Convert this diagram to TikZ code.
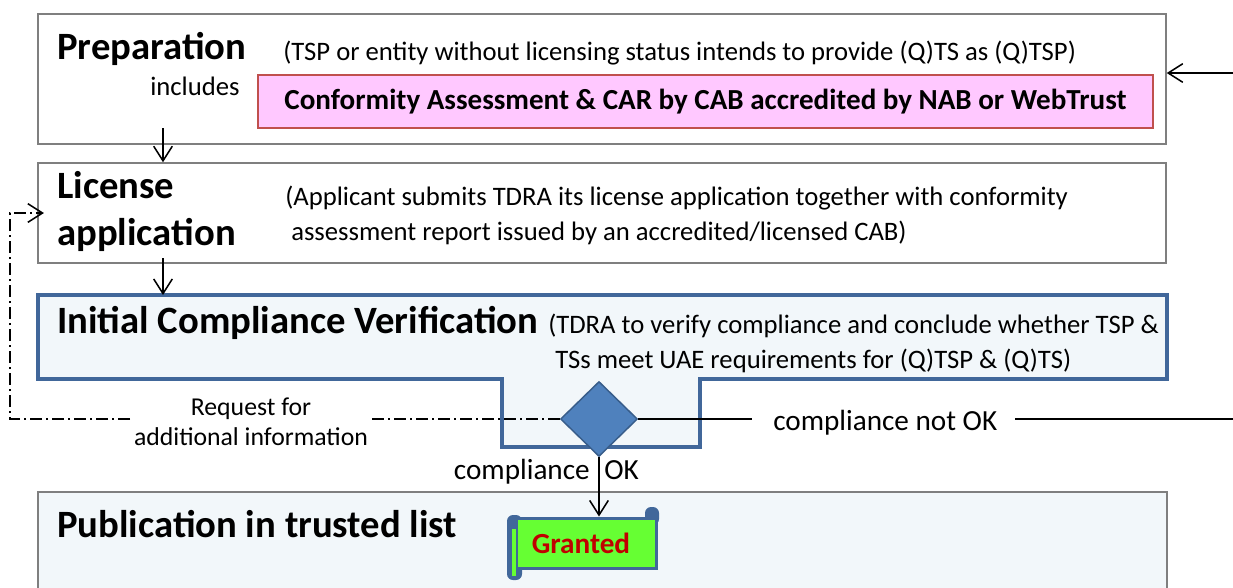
\documentclass[tikz,border=0pt]{standalone}
\usepackage{fontspec}
\setmainfont{Carlito}
\usetikzlibrary{arrows.meta,shapes.geometric}
\definecolor{boxgray}{HTML}{7F7F7F}
\definecolor{pinkfill}{HTML}{FFC8FF}
\definecolor{pinkline}{HTML}{C0504D}
\definecolor{icvline}{HTML}{41679A}
\definecolor{lightfill}{HTML}{F2F7FA}
\definecolor{diafill}{HTML}{4F81BD}
\definecolor{dialine}{HTML}{385D8A}
\definecolor{grantfill}{HTML}{66FF33}
\definecolor{grantred}{HTML}{C00000}
\tikzset{
  graybox/.style={draw=boxgray, line width=1.1pt, inner sep=0pt},
  head/.style={font=\bfseries\fontsize{29}{31}\selectfont, inner sep=0pt, anchor=base west},
  desc/.style={font=\fontsize{20}{22}\selectfont, inner sep=0pt, anchor=base west},
  barb/.style={-{Straight Barb[length=11pt,width=14pt]}},
  conn/.style={line width=1.15pt, barb},
  plainline/.style={line width=1.15pt},
  dashdot/.style={line width=1.15pt, dash pattern=on 9pt off 3pt on 1.5pt off 3pt},
  lbl/.style={font=\fontsize{21.9}{24}\selectfont, inner sep=0pt},
}
\begin{document}
\begin{tikzpicture}[x=0.75pt,y=-0.75pt]
\clip (0,0) rectangle (1233,587);
\fill[white] (0,0) rectangle (1233,587);

% Preparation
\node[graybox, fill=white, minimum width=846pt, minimum height=97.5pt] (prep) at (602,79) {};
\node[head] (prephead) at (57,59) {Preparation};
\node[desc] (prepdesc) at (283,60) {(TSP or entity without licensing status intends to provide (Q)TS as (Q)TSP)};
\node[desc] (includes) at (150,95) {includes};
\node[draw=pinkline, fill=pinkfill, line width=1.1pt, minimum width=671.25pt, minimum height=39.75pt, inner sep=0pt,
      font=\bfseries\fontsize{21.8}{24}\selectfont] (car) at (705.5,101.5) {Conformity Assessment \& CAR by CAB accredited by NAB or WebTrust};

% License application
\node[graybox, fill=white, minimum width=846pt, minimum height=75pt] (license) at (602,213) {};
\node[head] (lichead1) at (57,198) {License};
\node[head] (lichead2) at (57,245) {application};
\node[desc] (licdesc1) at (285,205) {(Applicant submits TDRA its license application together with conformity};
\node[desc] (licdesc2) at (291,240) {assessment report issued by an accredited/licensed CAB)};

% Initial Compliance Verification
\draw[icvline, line width=2.4pt, fill=lightfill, line join=miter]
  (38,295) -- (1167,295) -- (1167,379) -- (700,379) -- (700,447) -- (502,447) -- (502,379) -- (38,379) -- cycle;
\coordinate (icvtop) at (163,295);
\node[head] (icvhead) at (57,333) {Initial Compliance Verification};
\node[desc] (icvdesc1) at (548,333) {(TDRA to verify compliance and conclude whether TSP \&};
\node[desc] (icvdesc2) at (555,368) {TSs meet UAE requirements for (Q)TSP \& (Q)TS)};

\node[diamond, draw=dialine, fill=diafill, line width=1.1pt, minimum width=57.75pt, minimum height=56.25pt, inner sep=0pt] (dia) at (599,419) {};

% Publication
\node[graybox, fill=lightfill, minimum width=846.75pt, minimum height=102pt] (pub) at (602.5,560) {};
\node[head] (pubhead) at (57,537) {Publication in trusted list};

% Granted scroll
\fill[icvline, rounded corners=4.5pt] (507,515) rectangle (522,580);
\fill[icvline, rounded corners=4.5pt] (645,507) rectangle (659,525);
\node[draw=icvline, fill=grantfill, line width=2.25pt, minimum width=105pt, minimum height=37.5pt, inner sep=0pt,
      text=grantred, font=\bfseries\fontsize{21.9}{24}\selectfont] (granted) at (586,543) {Granted\hspace*{7.5pt}};
\fill[grantfill] (512,529) rectangle (516,576);

% connectors
\coordinate (a1) at (163,128);
\draw[conn] (a1) -- (a1 |- license.north);
\coordinate (a2) at (163,258);
\draw[conn] (a2) -- (icvtop);
\draw[conn] (dia.south) -- (granted.north -| dia.south);
\node[lbl, anchor=base east] (okl) at (590,479) {compliance};
\node[lbl, anchor=base west] (okr) at (604,479) {OK};

% compliance not OK
\coordinate (n1) at (752,419);
\draw[plainline] (dia.east) -- (n1);
\node[lbl, anchor=base west] (notok) at (773,430) {compliance not OK};
\coordinate (n2) at (1015,419);
\coordinate (n3) at (1233,419);
\draw[plainline] (n2) -- (n3);
\coordinate (rin) at (1233,73);
\draw[conn] (rin) -- (rin -| prep.east);

% request for additional information
\coordinate (d1) at (368,419);
\draw[dashdot] (dia.west) -- (d1);
\node[font=\fontsize{19.3}{21}\selectfont, inner sep=0pt, anchor=base] (req1) at (251,415) {Request for};
\node[font=\fontsize{19.3}{21}\selectfont, inner sep=0pt, anchor=base] (req2) at (251,445) {additional information};
\coordinate (d2) at (130,419);
\coordinate (d3) at (10,419);
\draw[dashdot, barb, shorten >=-5pt] (d2) -- (d3) |- (license.west);
\end{tikzpicture}
\end{document}
